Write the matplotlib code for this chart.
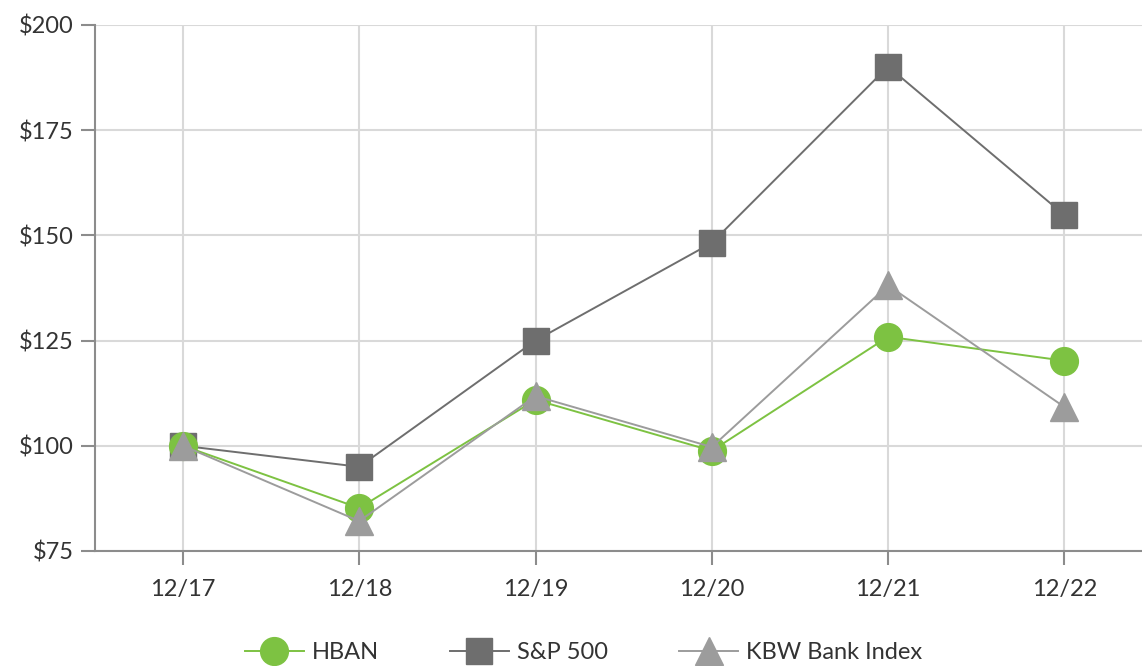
import matplotlib.pyplot as plt

plt.rcParams['font.family'] = ['Lato', 'DejaVu Sans']

# Datos
fechas = ["12/17", "12/18", "12/19", "12/20", "12/21", "12/22"]
hban = [100, 85.2, 110.9, 98.8, 125.9, 120.2]
sp500 = [100, 95.0, 125.0, 148.2, 190.1, 154.8]
kbw = [100, 82.1, 111.8, 99.7, 138.1, 109.2]
y_ticks = [75, 100, 125, 150, 175, 200]

fig = plt.figure(figsize=(11.42, 6.66), dpi=100)
ax = fig.add_axes([0.083, 0.1727, 0.917, 0.79])

x = list(range(len(fechas)))
ax.plot(x, hban, color="#7DC242", lw=1.4, marker="o", ms=20, mec="#7DC242", label="HBAN", zorder=4)
ax.plot(x, sp500, color="#6E6E6E", lw=1.4, marker="s", ms=19, mec="#6E6E6E", label="S&P 500", zorder=3)
ax.plot(x, kbw, color="#9C9C9C", lw=1.4, marker="^", ms=20, mec="#9C9C9C", label="KBW Bank Index", zorder=5)

ax.set_xlim(-0.5, 5.44)
ax.set_ylim(75, 200)
ax.set_xticks(x)
ax.set_xticklabels(fechas)
ax.set_yticks(y_ticks)
ax.set_yticklabels([f"${v}" for v in y_ticks])

ax.grid(True, color="#D9D9D9", lw=1.5)
ax.set_axisbelow(True)
for lado in ["top", "right"]:
    ax.spines[lado].set_visible(False)
for lado in ["left", "bottom"]:
    ax.spines[lado].set_color("#8C8C8C")
    ax.spines[lado].set_linewidth(1.5)
ax.tick_params(axis="both", colors="#8C8C8C", width=1.5, length=10, labelsize=17, labelcolor="#333333")
ax.tick_params(axis="x", pad=10)
ax.tick_params(axis="y", pad=5)

fig.legend(loc="lower center", bbox_to_anchor=(0.511, -0.028), ncol=3, frameon=False,
           fontsize=17, handlelength=2.5, columnspacing=3.0, handletextpad=0.35,
           labelcolor="#333333")

fig.savefig("out.png", dpi=100)
